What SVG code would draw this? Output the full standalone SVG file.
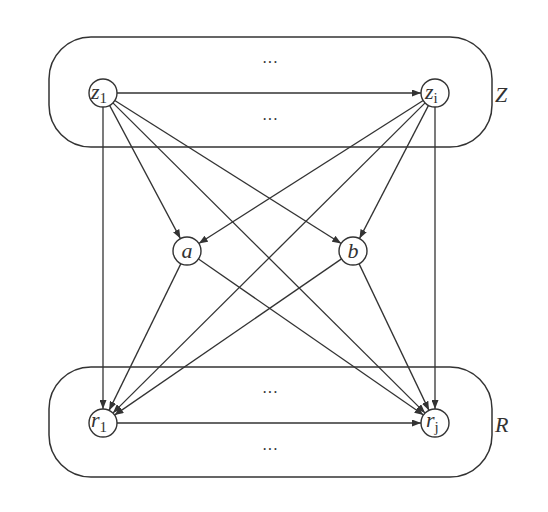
<svg xmlns="http://www.w3.org/2000/svg" width="548" height="512" viewBox="0 0 548 512">
<style>
.grp{fill:none;stroke:#333;stroke-width:1.5}
.nd{fill:#fff;stroke:#333;stroke-width:1.4}
.e{stroke:#333;stroke-width:1.3;fill:none;marker-end:url(#ah)}
.t{font-family:"Liberation Serif",serif;font-style:italic;font-size:22px;fill:#333}
.s{font-style:normal;font-size:15px}
.d{font-family:"Liberation Serif",serif;font-size:16px;fill:#333}
</style>
<defs>
<marker id="ah" markerWidth="9" markerHeight="7" refX="9" refY="3.5" orient="auto" markerUnits="userSpaceOnUse">
<path d="M0,0 L9,3.5 L0,7 Z" fill="#333"/>
</marker>
</defs>
<rect width="548" height="512" fill="#fff"/>
<g id="Z">
<rect class="grp" x="49" y="37" width="443" height="110" rx="42" ry="42"/>
<text class="d" x="270" y="68" text-anchor="middle">···</text>
<text class="d" x="270" y="125" text-anchor="middle">···</text>
<text class="t" x="495" y="102" font-size="24">Z</text>
</g>
<g id="R">
<rect class="grp" x="49" y="367" width="443" height="110" rx="42" ry="42"/>
<text class="d" x="270" y="398" text-anchor="middle">···</text>
<text class="d" x="270" y="455" text-anchor="middle">···</text>
<text class="t" x="495" y="432" font-size="24">R</text>
</g>
<g id="connectors">
<line class="e" x1="117" y1="93" x2="421" y2="93"/>
<line class="e" x1="103" y1="107" x2="103" y2="409"/>
<line class="e" x1="109.6" y1="105.4" x2="180.4" y2="238.6"/>
<line class="e" x1="114.8" y1="100.5" x2="341.2" y2="243.5"/>
<line class="e" x1="112.9" y1="102.9" x2="425.1" y2="413.1"/>
<line class="e" x1="423.2" y1="100.5" x2="198.8" y2="243.5"/>
<line class="e" x1="428.5" y1="105.4" x2="359.5" y2="238.6"/>
<line class="e" x1="425.1" y1="102.9" x2="112.9" y2="413.1"/>
<line class="e" x1="435" y1="107" x2="435" y2="409"/>
<line class="e" x1="180.9" y1="263.6" x2="109.1" y2="410.4"/>
<line class="e" x1="198.5" y1="259" x2="423.5" y2="415"/>
<line class="e" x1="341.5" y1="258.9" x2="114.5" y2="415.1"/>
<line class="e" x1="359" y1="263.6" x2="429" y2="410.4"/>
<line class="e" x1="117" y1="423" x2="421" y2="423"/>
</g>
<g id="z1"><circle class="nd" cx="103" cy="93" r="14"/><text class="t" x="91" y="99">z<tspan class="s" dy="4">1</tspan></text></g>
<g id="zi"><circle class="nd" cx="435" cy="93" r="14"/><text class="t" x="425" y="99">z<tspan class="s" dy="4">i</tspan></text></g>
<g id="a"><circle class="nd" cx="187" cy="251" r="14"/><text class="t" x="187" y="258" text-anchor="middle">a</text></g>
<g id="b"><circle class="nd" cx="353" cy="251" r="14"/><text class="t" x="353" y="258" text-anchor="middle">b</text></g>
<g id="r1"><circle class="nd" cx="103" cy="423" r="14"/><text class="t" x="91" y="427">r<tspan class="s" dy="5">1</tspan></text></g>
<g id="rj"><circle class="nd" cx="435" cy="423" r="14"/><text class="t" x="426" y="427">r<tspan class="s" dy="5">j</tspan></text></g>
</svg>
